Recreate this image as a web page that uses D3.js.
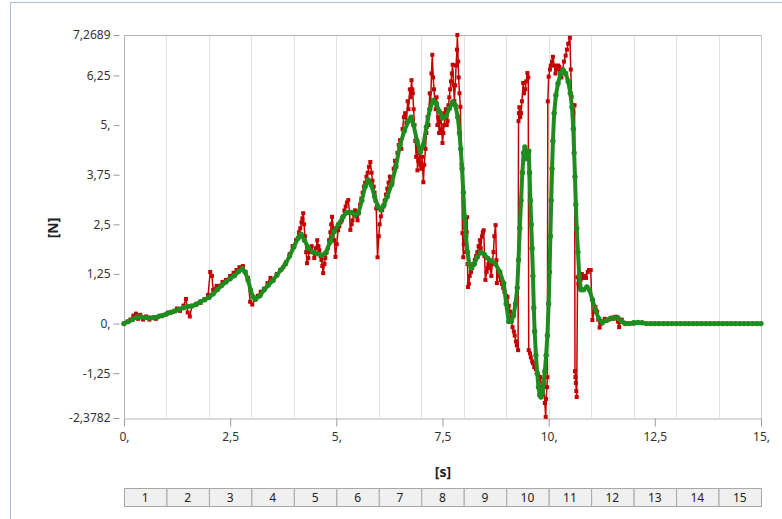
<!DOCTYPE html>
<html>
<head>
<meta charset="utf-8">
<script src="https://cdn.jsdelivr.net/npm/d3@7"></script>
<style>
  body { margin: 0; background: #fff; }
  text { font-family: "Noto Sans", "DejaVu Sans", sans-serif; }
</style>
</head>
<body>
<script>
// ---- data ----
var yTicks = [7.2689, 6.25, 5, 3.75, 2.5, 1.25, 0, -1.25, -2.3782];
var yLabels = ["7,2689", "6,25", "5,", "3,75", "2,5", "1,25", "0,", "-1,25", "-2,3782"];
var xTicks = [0, 2.5, 5, 7.5, 10, 12.5, 15];
var xLabels = ["0,", "2,5", "5,", "7,5", "10,", "12,5", "15,"];
var steps = [1, 2, 3, 4, 5, 6, 7, 8, 9, 10, 11, 12, 13, 14, 15];

// raw signal (red), [time s, force N]
var raw = [
  [0, 0], [0.08, 0.05], [0.15, 0.1], [0.22, 0.2], [0.28, 0.25], [0.33, 0.12], [0.38, 0.22], [0.45, 0.1],
  [0.52, 0.18], [0.6, 0.1], [0.68, 0.15], [0.75, 0.12], [0.85, 0.2], [0.95, 0.22], [1.05, 0.28], [1.15, 0.3],
  [1.25, 0.38], [1.32, 0.32], [1.4, 0.45], [1.46, 0.62], [1.5, 0.28], [1.55, 0.18], [1.6, 0.45], [1.7, 0.5],
  [1.8, 0.52], [1.9, 0.62], [1.98, 0.72], [2.03, 1.3], [2.07, 1.2], [2.1, 0.85], [2.18, 0.95], [2.25, 0.95],
  [2.32, 1.05], [2.4, 1.1], [2.5, 1.2], [2.58, 1.28], [2.65, 1.35], [2.72, 1.42], [2.8, 1.45], [2.86, 1.3],
  [2.92, 1.15], [2.97, 0.55], [3.02, 0.48], [3.08, 0.6], [3.15, 0.7], [3.22, 0.8], [3.3, 0.88], [3.38, 1.02],
  [3.45, 1.15], [3.52, 1.1], [3.6, 1.25], [3.68, 1.35], [3.75, 1.42], [3.82, 1.55], [3.9, 1.75], [3.97, 1.95],
  [4.05, 2.1], [4.12, 2.3], [4.15, 2.4], [4.18, 2.55], [4.2, 2.65], [4.22, 2.78], [4.24, 2.5], [4.26, 2.2],
  [4.29, 1.8], [4.31, 1.52], [4.34, 1.65], [4.36, 1.8], [4.39, 1.9], [4.42, 1.95], [4.45, 1.8], [4.48, 1.65],
  [4.52, 1.9], [4.55, 2.1], [4.58, 1.95], [4.6, 1.85], [4.63, 1.7], [4.65, 1.6], [4.67, 1.45], [4.69, 1.27],
  [4.72, 1.5], [4.74, 1.65], [4.77, 1.8], [4.8, 1.9], [4.83, 2.1], [4.86, 2.3], [4.88, 2.5], [4.9, 2.69],
  [4.93, 2.4], [4.95, 2.1], [4.98, 1.68], [5.01, 2.0], [5.04, 2.35], [5.07, 2.45], [5.1, 2.55], [5.13, 2.6],
  [5.16, 2.7], [5.19, 2.85], [5.22, 2.95], [5.25, 3.05], [5.28, 3.11], [5.31, 2.8], [5.33, 2.36], [5.36, 2.5],
  [5.38, 2.6], [5.41, 2.75], [5.44, 2.85], [5.47, 2.7], [5.5, 2.6], [5.53, 2.8], [5.56, 3.0], [5.59, 3.15],
  [5.62, 3.3], [5.65, 3.45], [5.68, 3.55], [5.71, 3.7], [5.74, 3.8], [5.77, 3.95], [5.8, 4.07], [5.83, 3.8],
  [5.85, 3.6], [5.88, 3.45], [5.9, 3.3], [5.92, 3.1], [5.94, 2.9], [5.97, 1.67], [6.0, 2.2], [6.02, 2.5],
  [6.05, 2.7], [6.08, 2.86], [6.11, 2.95], [6.14, 3.1], [6.17, 3.25], [6.2, 3.4], [6.23, 3.55], [6.26, 3.7],
  [6.29, 3.6], [6.32, 3.55], [6.35, 3.9], [6.38, 4.1], [6.41, 3.95], [6.44, 4.3], [6.47, 4.5], [6.5, 4.62],
  [6.53, 4.4], [6.56, 4.9], [6.59, 5.2], [6.62, 5.3], [6.65, 5.05], [6.68, 5.6], [6.7, 5.4], [6.73, 5.9],
  [6.75, 5.7], [6.77, 6.13], [6.79, 5.9], [6.8, 5.8], [6.82, 5.4], [6.84, 5.0], [6.86, 4.6], [6.88, 4.2],
  [6.9, 4.5], [6.91, 3.86], [6.93, 4.1], [6.96, 4.3], [6.98, 4.0], [7.0, 3.9], [7.02, 4.2], [7.05, 3.56],
  [7.07, 4.0], [7.1, 4.4], [7.12, 4.8], [7.15, 5.2], [7.17, 5.0], [7.2, 5.8], [7.22, 5.5], [7.24, 6.3],
  [7.26, 6.77], [7.28, 6.2], [7.3, 5.9], [7.32, 5.6], [7.34, 5.4], [7.36, 5.7], [7.38, 5.0], [7.4, 5.2],
  [7.42, 4.8], [7.44, 5.1], [7.46, 5.3], [7.48, 4.9], [7.5, 4.55], [7.52, 4.8], [7.54, 5.0], [7.56, 5.3],
  [7.58, 5.4], [7.6, 5.0], [7.62, 5.1], [7.64, 5.5], [7.66, 5.7], [7.68, 5.9], [7.7, 6.1], [7.72, 6.3],
  [7.74, 6.52], [7.76, 6.0], [7.78, 5.6], [7.8, 6.0], [7.82, 6.5], [7.84, 6.9], [7.85, 7.27], [7.87, 6.6],
  [7.88, 6.2], [7.9, 5.8], [7.92, 5.46], [7.95, 4.0], [7.97, 2.28], [7.99, 1.67], [8.0, 2.0], [8.02, 2.43],
  [8.04, 2.1], [8.05, 1.8], [8.07, 2.3], [8.08, 2.68], [8.09, 1.5], [8.1, 0.92], [8.12, 1.0], [8.14, 1.2],
  [8.17, 1.3], [8.2, 1.4], [8.23, 1.5], [8.26, 1.6], [8.29, 1.7], [8.32, 1.8], [8.35, 1.95], [8.38, 2.1],
  [8.4, 1.9], [8.43, 2.2], [8.45, 2.3], [8.47, 2.35], [8.49, 1.7], [8.51, 1.1], [8.54, 1.3], [8.56, 1.4],
  [8.58, 1.5], [8.6, 1.6], [8.62, 1.4], [8.65, 1.2], [8.67, 1.5], [8.7, 1.8], [8.72, 2.2], [8.75, 2.48],
  [8.77, 1.6], [8.78, 1.02], [8.81, 1.3], [8.84, 1.2], [8.87, 1.1], [8.9, 1.0], [8.93, 0.9], [8.96, 0.8],
  [9.0, 0.7], [9.03, 0.67], [9.06, 0.45], [9.09, 0.3], [9.12, 0.1], [9.15, -0.09], [9.18, -0.2], [9.2, -0.3],
  [9.23, -0.45], [9.25, -0.55], [9.28, -0.67], [9.29, 5.1], [9.3, 5.3], [9.31, 5.45], [9.33, 5.2], [9.35, 5.3],
  [9.37, 5.6], [9.4, 6.06], [9.42, 5.8], [9.45, 5.9], [9.47, 6.1], [9.5, 6.31], [9.52, 6.2], [9.53, -0.67],
  [9.56, -0.75], [9.58, -0.85], [9.61, -0.95], [9.63, -1.0], [9.66, -1.1], [9.7, -1.15], [9.73, -1.25], [9.75, -1.3],
  [9.78, -1.4], [9.8, -1.35], [9.83, -1.6], [9.85, -1.8], [9.88, -1.5], [9.91, -2.0], [9.93, -2.35], [9.94, -1.9],
  [9.96, -1.6], [9.97, -1.35], [9.98, 5.6], [10.0, 6.22], [10.03, 6.4], [10.05, 6.5], [10.08, 6.6], [10.1, 6.72],
  [10.13, 6.5], [10.16, 6.3], [10.19, 6.4], [10.22, 6.5], [10.25, 6.47], [10.27, 6.35], [10.3, 6.2], [10.33, 6.4],
  [10.36, 6.6], [10.4, 6.75], [10.43, 6.9], [10.46, 7.05], [10.5, 7.2], [10.52, 6.4], [10.54, 5.71], [10.56, 5.5],
  [10.58, 5.3], [10.61, 5.5], [10.62, -1.2], [10.63, -1.35], [10.64, -1.5], [10.65, -1.7], [10.66, -1.85], [10.68, 1.17],
  [10.7, 1.0], [10.72, 0.9], [10.75, 1.1], [10.78, 1.25], [10.81, 1.15], [10.85, 1.2], [10.88, 1.15], [10.92, 1.3],
  [10.95, 1.35], [10.99, 1.35], [11.03, 0.09], [11.07, 0.3], [11.1, 0.42], [11.14, 0.3], [11.17, 0.1], [11.2, -0.1],
  [11.24, 0.0], [11.28, 0.05], [11.32, 0.12], [11.36, 0.08], [11.4, 0.1], [11.44, 0.12], [11.48, 0.15], [11.52, 0.12],
  [11.56, 0.17], [11.6, 0.17], [11.63, 0.05], [11.66, -0.09], [11.69, 0.05], [11.72, 0.1], [11.78, 0.02], [11.85, 0],
  [12.0, 0]
];

// filtered signal (green)
var filtT = [0, 0.1, 0.2, 0.3, 0.4, 0.5, 0.6, 0.7, 0.8, 0.9, 1.0, 1.1, 1.2, 1.3, 1.4, 1.5, 1.6, 1.7, 1.8, 1.9, 2.0, 2.1, 2.2, 2.3, 2.4, 2.5, 2.6, 2.7, 2.78, 2.85, 2.92, 2.98, 3.04, 3.1, 3.2, 3.3, 3.4, 3.5, 3.6, 3.7, 3.8, 3.9, 4.0, 4.1, 4.17, 4.25, 4.35, 4.45, 4.55, 4.65, 4.75, 4.85, 4.95, 5.05, 5.15, 5.25, 5.35, 5.45, 5.52, 5.6, 5.68, 5.75, 5.82, 5.9, 5.98, 6.05, 6.12, 6.2, 6.3, 6.4, 6.5, 6.6, 6.7, 6.76, 6.82, 6.9, 6.98, 7.05, 7.12, 7.2, 7.28, 7.35, 7.42, 7.5, 7.58, 7.66, 7.74, 7.8, 7.86, 7.9, 7.93, 7.96, 7.99, 8.02, 8.05, 8.09, 8.13, 8.18, 8.25, 8.32, 8.4, 8.48, 8.56, 8.65, 8.75, 8.85, 8.94, 9.0, 9.06, 9.12, 9.17, 9.22, 9.26, 9.29, 9.32, 9.35, 9.38, 9.41, 9.44, 9.47, 9.5, 9.53, 9.55, 9.57, 9.59, 9.61, 9.63, 9.65, 9.67, 9.7, 9.73, 9.76, 9.79, 9.82, 9.85, 9.88, 9.91, 9.94, 9.97, 10.0, 10.02, 10.04, 10.06, 10.08, 10.1, 10.13, 10.17, 10.22, 10.28, 10.34, 10.4, 10.46, 10.51, 10.55, 10.58, 10.6, 10.62, 10.64, 10.66, 10.69, 10.72, 10.76, 10.82, 10.9, 10.96, 11.03, 11.1, 11.18, 11.27, 11.36, 11.45, 11.55, 11.63, 11.72, 11.8, 11.9, 12.0, 12.1, 12.2, 12.3, 12.4, 12.5, 12.6, 12.7, 12.8, 12.9, 13.0, 13.1, 13.2, 13.3, 13.4, 13.5, 13.6, 13.7, 13.8, 13.9, 14.0, 14.1, 14.2, 14.3, 14.4, 14.5, 14.6, 14.7, 14.8, 14.9, 15.0];
var filtV = [0, 0.05, 0.1, 0.16, 0.17, 0.15, 0.14, 0.15, 0.17, 0.2, 0.24, 0.28, 0.32, 0.36, 0.4, 0.43, 0.44, 0.48, 0.55, 0.6, 0.66, 0.75, 0.86, 0.96, 1.05, 1.13, 1.21, 1.31, 1.38, 1.3, 1.1, 0.85, 0.67, 0.62, 0.7, 0.85, 0.97, 1.08, 1.22, 1.36, 1.5, 1.7, 1.93, 2.15, 2.25, 2.1, 1.9, 1.8, 1.76, 1.72, 1.78, 2.05, 2.32, 2.5, 2.68, 2.8, 2.8, 2.74, 2.78, 3.1, 3.45, 3.62, 3.5, 3.2, 2.95, 2.86, 2.98, 3.2, 3.5, 3.95, 4.5, 4.85, 5.1, 5.2, 5.0, 4.6, 4.32, 4.5, 4.95, 5.4, 5.62, 5.55, 5.35, 5.18, 5.22, 5.42, 5.58, 5.5, 5.2, 4.8, 4.4, 3.9, 3.3, 2.7, 2.2, 1.8, 1.5, 1.4, 1.5, 1.68, 1.8, 1.75, 1.65, 1.58, 1.5, 1.3, 1.02, 0.5, 0.05, 0.05, 0.2, 0.5, 0.9, 1.6, 2.4, 3.1, 3.8, 4.3, 4.45, 4.15, 4.2, 4.35, 3.8, 3.1, 2.5, 1.9, 1.2, 0.4, -0.2, -0.8, -1.25, -1.6, -1.8, -1.85, -1.75, -1.5, -1.2, -0.8, -0.3, 0.5, 1.3, 2.2, 3.1, 3.9, 4.6, 5.3, 5.75, 6.05, 6.3, 6.38, 6.3, 6.1, 5.8, 5.45, 4.9, 4.3, 3.7, 3.0, 2.4, 1.8, 1.2, 0.85, 0.85, 0.92, 0.85, 0.6, 0.35, 0.12, 0.03, 0.08, 0.12, 0.14, 0.14, 0.06, 0, 0, 0.02, 0.03, 0.02, 0, 0, 0, 0, 0, 0, 0, 0, 0, 0, 0, 0, 0, 0, 0, 0, 0, 0, 0, 0, 0, 0, 0, 0, 0, 0, 0, 0];

var W = 782, H = 519;
var redColor = "#c40000", greenColor = "#1f8c1f";

var svg = d3.select("body").append("svg")
  .attr("width", W).attr("height", H);

// outer panel border
svg.append("path")
  .attr("d", "M10.5," + H + "V2.5H" + W)
  .attr("fill", "none").attr("stroke", "#a9bdd9").attr("stroke-width", 1);

var x = d3.scaleLinear().domain([0, 15]).range([124, 761]);
var y = d3.scaleLinear().domain([-2.3782, 7.2689]).range([418, 35]);

// vertical grid every second
svg.append("g").selectAll("line")
  .data(steps)
  .join("line")
  .attr("x1", function(d) { return Math.round(x(d)) + 0.5; })
  .attr("x2", function(d) { return Math.round(x(d)) + 0.5; })
  .attr("y1", 35).attr("y2", 418)
  .attr("stroke", function(d) { return d == 15 ? "#c8c8c8" : "#e2e2e2"; });

// plot frame: top and left
svg.append("path")
  .attr("d", "M124.5,418V35.5H761")
  .attr("fill", "none").attr("stroke", "#b4b4b4");

// y axis
var yAxis = svg.append("g")
  .attr("transform", "translate(119.5,0)")
  .call(d3.axisLeft(y).tickValues(yTicks)
    .tickFormat(function(d, i) { return yLabels[i]; })
    .tickSize(6).tickPadding(3));
yAxis.select(".domain").remove();
yAxis.selectAll("line").attr("stroke", "#9a9a9a");
yAxis.selectAll("text").attr("font-size", 12).attr("fill", "#333")
  .style("font-family", "'Noto Sans', sans-serif");

// x axis
var xAxis = svg.append("g")
  .attr("transform", "translate(0,418.5)")
  .call(d3.axisBottom(x).tickValues(xTicks)
    .tickFormat(function(d, i) { return xLabels[i]; })
    .tickSize(8).tickPadding(6).tickSizeOuter(0));
xAxis.select(".domain").attr("stroke", "#b4b4b4");
xAxis.selectAll("line").attr("stroke", "#9a9a9a");
xAxis.selectAll("text").attr("font-size", 12).attr("fill", "#333")
  .style("font-family", "'Noto Sans', sans-serif");

// axis titles
svg.append("text")
  .attr("transform", "translate(52,228) rotate(-90)")
  .attr("text-anchor", "middle").attr("dominant-baseline", "central")
  .attr("font-size", 14).attr("font-weight", "bold").attr("fill", "#222")
  .text("[N]");
svg.append("text")
  .attr("x", 443).attr("y", 471)
  .attr("text-anchor", "middle").attr("dominant-baseline", "central")
  .attr("font-size", 14).attr("font-weight", "bold").attr("fill", "#222")
  .text("[s]");

// series
var filt = filtT.map(function(t, i) { return [t, filtV[i]]; });

var line = d3.line()
  .x(function(d) { return x(d[0]); })
  .y(function(d) { return y(d[1]); });

svg.append("path").datum(raw)
  .attr("d", line).attr("fill", "none")
  .attr("stroke", redColor).attr("stroke-width", 1.5);
svg.append("g").selectAll("rect")
  .data(raw)
  .join("rect")
  .attr("x", function(d) { return x(d[0]) - 2; })
  .attr("y", function(d) { return y(d[1]) - 2; })
  .attr("width", 4).attr("height", 4)
  .attr("fill", redColor);

svg.append("path").datum(filt)
  .attr("d", line).attr("fill", "none")
  .attr("stroke", greenColor).attr("stroke-width", 4)
  .attr("stroke-linejoin", "round");
svg.append("g").selectAll("circle")
  .data(filt)
  .join("circle")
  .attr("cx", function(d) { return x(d[0]); })
  .attr("cy", function(d) { return y(d[1]); })
  .attr("r", 2.7)
  .attr("fill", greenColor);

// load step table under the axis
var cellW = (x(15) - x(0)) / steps.length;
var table = svg.append("g");
table.selectAll("rect")
  .data(steps)
  .join("rect")
  .attr("x", function(d, i) { return x(0) + i * cellW + 0.5; })
  .attr("y", 488.5)
  .attr("width", cellW).attr("height", 18)
  .attr("fill", "#f0f0f0").attr("stroke", "#a8a8a8");
table.selectAll("text")
  .data(steps)
  .join("text")
  .attr("x", function(d, i) { return x(0) + (i + 0.5) * cellW; })
  .attr("y", 497.5)
  .attr("text-anchor", "middle").attr("dominant-baseline", "central")
  .attr("font-size", 12).attr("fill", "#222")
  .text(function(d) { return d; });
</script>
</body>
</html>
